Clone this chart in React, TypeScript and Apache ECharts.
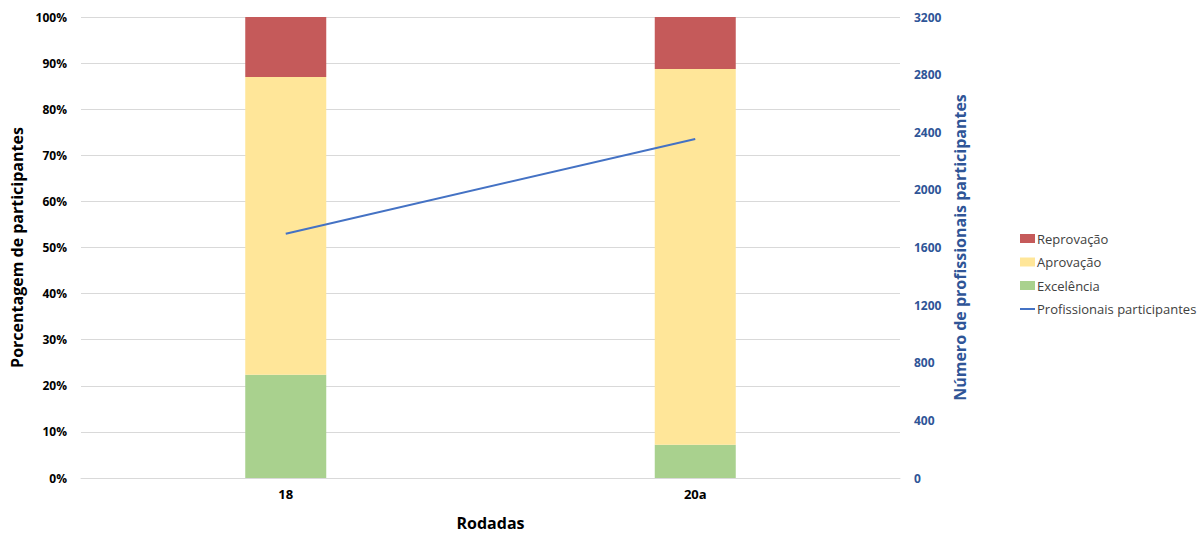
import React, { useEffect, useRef } from "react";
import * as echarts from "echarts";

const categories = ["18", "20a"];
const excelencia = [22.4, 7.2];
const aprovacao = [64.6, 81.5];
const reprovacao = [13.0, 11.3];
const profissionais = [1696, 2353];

const FONT = "'Open Sans', 'Noto Sans', sans-serif";

export default function App() {
  const ref = useRef<HTMLDivElement>(null);
  useEffect(() => {
    if (!ref.current) return;
    const chart = echarts.init(ref.current, undefined, { renderer: "svg" });
    chart.setOption({
      animation: false,
      backgroundColor: "#ffffff",
      grid: { left: 81, right: 304, top: 17, bottom: 58 },
      legend: {
        orient: "vertical",
        left: 1015,
        top: 227,
        itemGap: 10.5,
        itemWidth: 15,
        itemHeight: 9,
        textStyle: { fontFamily: FONT, fontSize: 13, color: "#404040", padding: [0, 0, 0, -3] },
        data: [
          { name: "Reprovação", icon: "rect" },
          { name: "Aprovação", icon: "rect" },
          { name: "Excelência", icon: "rect" },
          { name: "Profissionais participantes", icon: "path://M0,0 L15,0 L15,2 L0,2 Z", itemStyle: { color: "#4472C4" } },
        ],
      },
      xAxis: {
        type: "category",
        data: categories,
        name: "Rodadas",
        nameLocation: "middle",
        nameGap: 37,
        nameTextStyle: { fontFamily: FONT, fontSize: 16, fontWeight: "bold", color: "#000" },
        axisLine: { lineStyle: { color: "#D9D9D9" } },
        axisTick: { show: false },
        axisLabel: { fontFamily: FONT, fontSize: 13, fontWeight: "bold", color: "#000", margin: 9 },
      },
      yAxis: [
        {
          type: "value",
          min: 0,
          max: 100,
          interval: 10,
          name: "Porcentagem de participantes",
          nameLocation: "middle",
          nameGap: 56,
          nameTextStyle: { fontFamily: FONT, fontSize: 16, fontWeight: "bold", color: "#000" },
          axisLabel: { formatter: "{value}%", fontFamily: FONT, fontSize: 12, fontWeight: "bold", color: "#000", margin: 14 },
          splitLine: { lineStyle: { color: "#D9D9D9" } },
          axisLine: { show: false },
          axisTick: { show: false },
        },
        {
          type: "value",
          min: 0,
          max: 3200,
          interval: 400,
          name: "Número de profissionais participantes",
          nameLocation: "middle",
          nameGap: 51,
          nameTextStyle: { fontFamily: FONT, fontSize: 16, fontWeight: "bold", color: "#2F5597" },
          axisLabel: {
            formatter: (v: number) => String(v),
            fontFamily: FONT,
            fontSize: 12,
            fontWeight: "bold",
            color: "#2F5597",
            margin: 14,
          },
          splitLine: { show: false },
          axisLine: { show: false },
          axisTick: { show: false },
        },
      ],
      series: [
        { name: "Excelência", type: "bar", stack: "p", data: excelencia, barWidth: 81, itemStyle: { color: "#A9D18E" } },
        { name: "Aprovação", type: "bar", stack: "p", data: aprovacao, barWidth: 81, itemStyle: { color: "#FFE699" } },
        { name: "Reprovação", type: "bar", stack: "p", data: reprovacao, barWidth: 81, itemStyle: { color: "#C55A5A" } },
        {
          name: "Profissionais participantes",
          type: "line",
          yAxisIndex: 1,
          data: profissionais,
          showSymbol: false,
          symbol: "none",
          lineStyle: { color: "#4472C4", width: 2 },
          itemStyle: { color: "#4472C4" },
        },
      ],
    });
    return () => chart.dispose();
  }, []);
  return (
    <div
      ref={ref}
      style={{ position: "fixed", left: 0, top: 0, width: 1204, height: 536, background: "#fff" }}
    />
  );
}
